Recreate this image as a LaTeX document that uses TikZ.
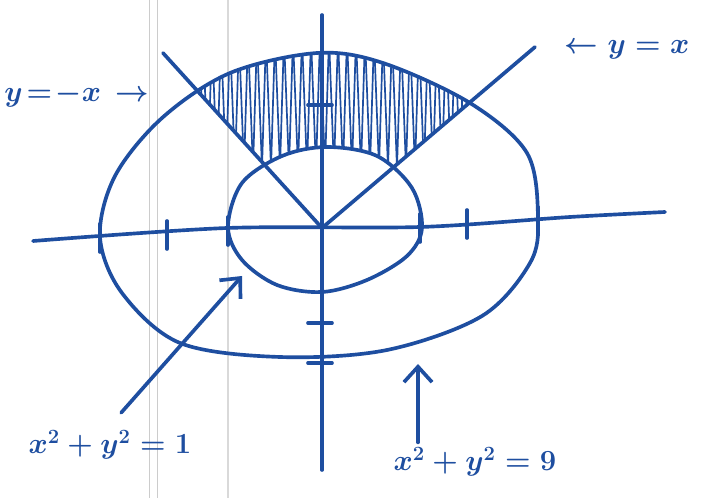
\documentclass[tikz,border=0pt]{standalone}
\usepackage{amsmath}
\usepackage{tikz}
\usetikzlibrary{arrows.meta, calc}
\definecolor{ink}{RGB}{30,78,160}

\begin{document}
\begin{tikzpicture}[x=0.025cm, y=0.025cm,
    >={Straight Barb[length=11pt, width=20pt]},
    ink line/.style={draw=ink, line width=2.6pt, line cap=round, line join=round},
    hatch/.style={draw=ink, line width=1.2pt, line join=round},
    scrawl/.style={text=ink, font=\huge\boldmath}]
  \path[fill=white, use as bounding box] (-322,-270) rectangle (380,228);

  % margin of the notebook page
  \draw[gray!40, line width=0.4pt] (-173,-270) -- (-173,228);
  \draw[gray!40, line width=0.4pt] (-165,-270) -- (-165,228);
  \draw[gray!30, line width=1.6pt] (-94,-270) -- (-94,228);

  \def\outerCurve{plot[smooth cycle, tension=0.55] coordinates {(-222,-9) (-200,-65)
      (-142,-115) (-42,-129) (65,-122) (160,-88) (208,-35) (216,10) (205,75)
      (148,125) (61,165) (-5,175) (-92,155) (-160,110) (-207,52)}}
  \def\innerCurve{plot[smooth cycle, tension=0.55] coordinates {(-94,1) (-80,45)
      (-40,72) (5,81) (55,72) (90,40) (100,0) (85,-28) (45,-52) (0,-64) (-45,-57)
      (-80,-32)}}

  \coordinate (O) at (0,0);
  \coordinate (L) at (-159,175);
  \coordinate (R) at (213,181);

  % shaded region between the lines
  \begin{scope}[even odd rule]
    \clip (O) -- ($(O)!1.3!(L)$) -- ($(O)!1.3!(R)$) -- cycle;
    \clip \outerCurve;
    \clip (-322,-270) rectangle (380,228) \innerCurve;
    \foreach \x in {-150,-141,...,160}
      \draw[hatch] (\x,60) -- (\x+4,190) -- (\x+9,60);
  \end{scope}

  % axes
  \draw[ink line] plot[smooth] coordinates {(-289,-13) (-95,0) (98,1) (248,11) (343,16)};
  \draw[ink line] (0,213) -- (0,-242);
  \foreach \x/\y in {-222/-10, -155/-7, -94/-3, 98/0, 145/4, 216/7}
    \draw[ink line] (\x,\y+14) -- (\x,\y-14);
  \foreach \y in {123,-95,-135}
    \draw[ink line] (-14,\y) -- (10,\y);

  % circles and lines
  \draw[ink line] \outerCurve;
  \draw[ink line] \innerCurve;
  \draw[ink line] (L) -- (O) -- (R);

  % labels
  \node[scrawl] (lblNeg) at (-245,133) {$y\!=\!-x\,\rightarrow$};
  \node[scrawl] (lblPos) at (305,178) {$\leftarrow y=x$};
  \node[scrawl] (lblIn) at (-212,-217) {$x^2+y^2=1$};
  \node[scrawl] (lblOut) at (153,-234) {$x^2+y^2=9$};

  \coordinate (P1) at (-80,-48);
  \coordinate (P9) at (96,-136);
  \draw[ink line, ->, shorten <=12pt] (lblIn.north) -- (P1);
  \draw[ink line, ->] (P9 |- lblOut.north) -- (P9);
\end{tikzpicture}
\end{document}
